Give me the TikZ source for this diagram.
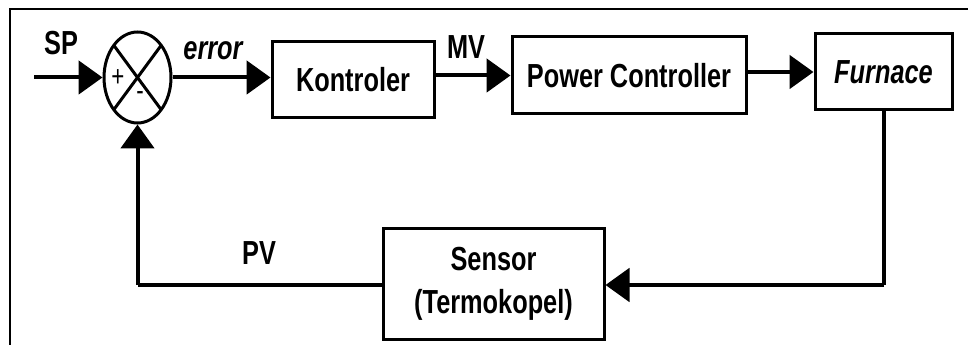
\documentclass[tikz,border=0pt]{standalone}
\usepackage{fontspec}
\setmainfont{Liberation Sans}[FakeStretch=0.76]
\usetikzlibrary{arrows.meta, shapes.geometric, calc}

\tikzset{
  blok/.style={draw, line width=2.25pt, inner sep=0pt, align=center},
  conn/.style={line width=3pt, -{Triangle[length=18pt,width=25pt]}},
  wire/.style={line width=3pt},
  lbl/.style={inner sep=0pt}
}

\begin{document}
\begin{tikzpicture}[x=0.75pt, y=-0.75pt, font=\fontsize{25}{30}\selectfont\bfseries]

\useasboundingbox (0,0) rectangle (968,345);

% --- frame ---
\draw[line width=1.5pt] (10,345) -- (10,9) -- (968,9);

% --- summing junction ---
\node[draw, ellipse, line width=2.25pt, minimum width=50.25pt, minimum height=68.25pt, inner sep=0pt,
  path picture={
    \draw[line width=2.25pt]
      ($(path picture bounding box.center)!0.7071!(path picture bounding box.north west)$) --
      ($(path picture bounding box.center)!0.7071!(path picture bounding box.south east)$)
      ($(path picture bounding box.center)!0.7071!(path picture bounding box.north east)$) --
      ($(path picture bounding box.center)!0.7071!(path picture bounding box.south west)$);
  }] (sum) at (137.5,77.5) {};
\node[lbl, font=\fontsize{22}{26}\selectfont] (plus) at (118,78) {+};
\node[lbl, font=\fontsize{22}{26}\selectfont] (minus) at (140,96) {-};

% --- blocks ---
\node[blok, minimum width=121.5pt, minimum height=57pt] (ctrl) at (353,80) {Kontroler};
\node[blok, minimum width=175.5pt, minimum height=57.75pt] (pwr) at (629,75.5) {Power Controller};
\node[blok, minimum width=102.75pt, minimum height=57pt] (fur) at (883.5,72) {\itshape Furnace};
\node[blok, minimum width=165.75pt, minimum height=83.25pt] (sen) at (493.5,284) {Sensor\\[2pt](Termokopel)};

% --- connectors ---
\coordinate (sp) at (34,77.5);
\draw[conn] (sp) -- (sum.west);
\draw[conn] (sum.east) -- (sum.east -| ctrl.west);
\draw[conn] (pwr.west -| ctrl.east) -- (pwr.west);
\draw[conn] (fur.west -| pwr.east) -- (fur.west);
\coordinate (fb) at (fur.south |- 0,285);
\draw[wire] (fur.south) -- (fb);
\draw[conn] (fb) -- (fb -| sen.east);
\coordinate (pvc) at (137.5,285);
\draw[wire] (pvc -| sen.west) -- (pvc);
\draw[conn] (pvc) -- (sum.south);

% --- labels ---
\node[lbl] (splbl) at (61,43) {SP};
\node[lbl] (errlbl) at (213,51) {\itshape error};
\node[lbl] (mvlbl) at (466,47) {MV};
\node[lbl] (pvlbl) at (259,253) {PV};

\end{tikzpicture}
\end{document}
